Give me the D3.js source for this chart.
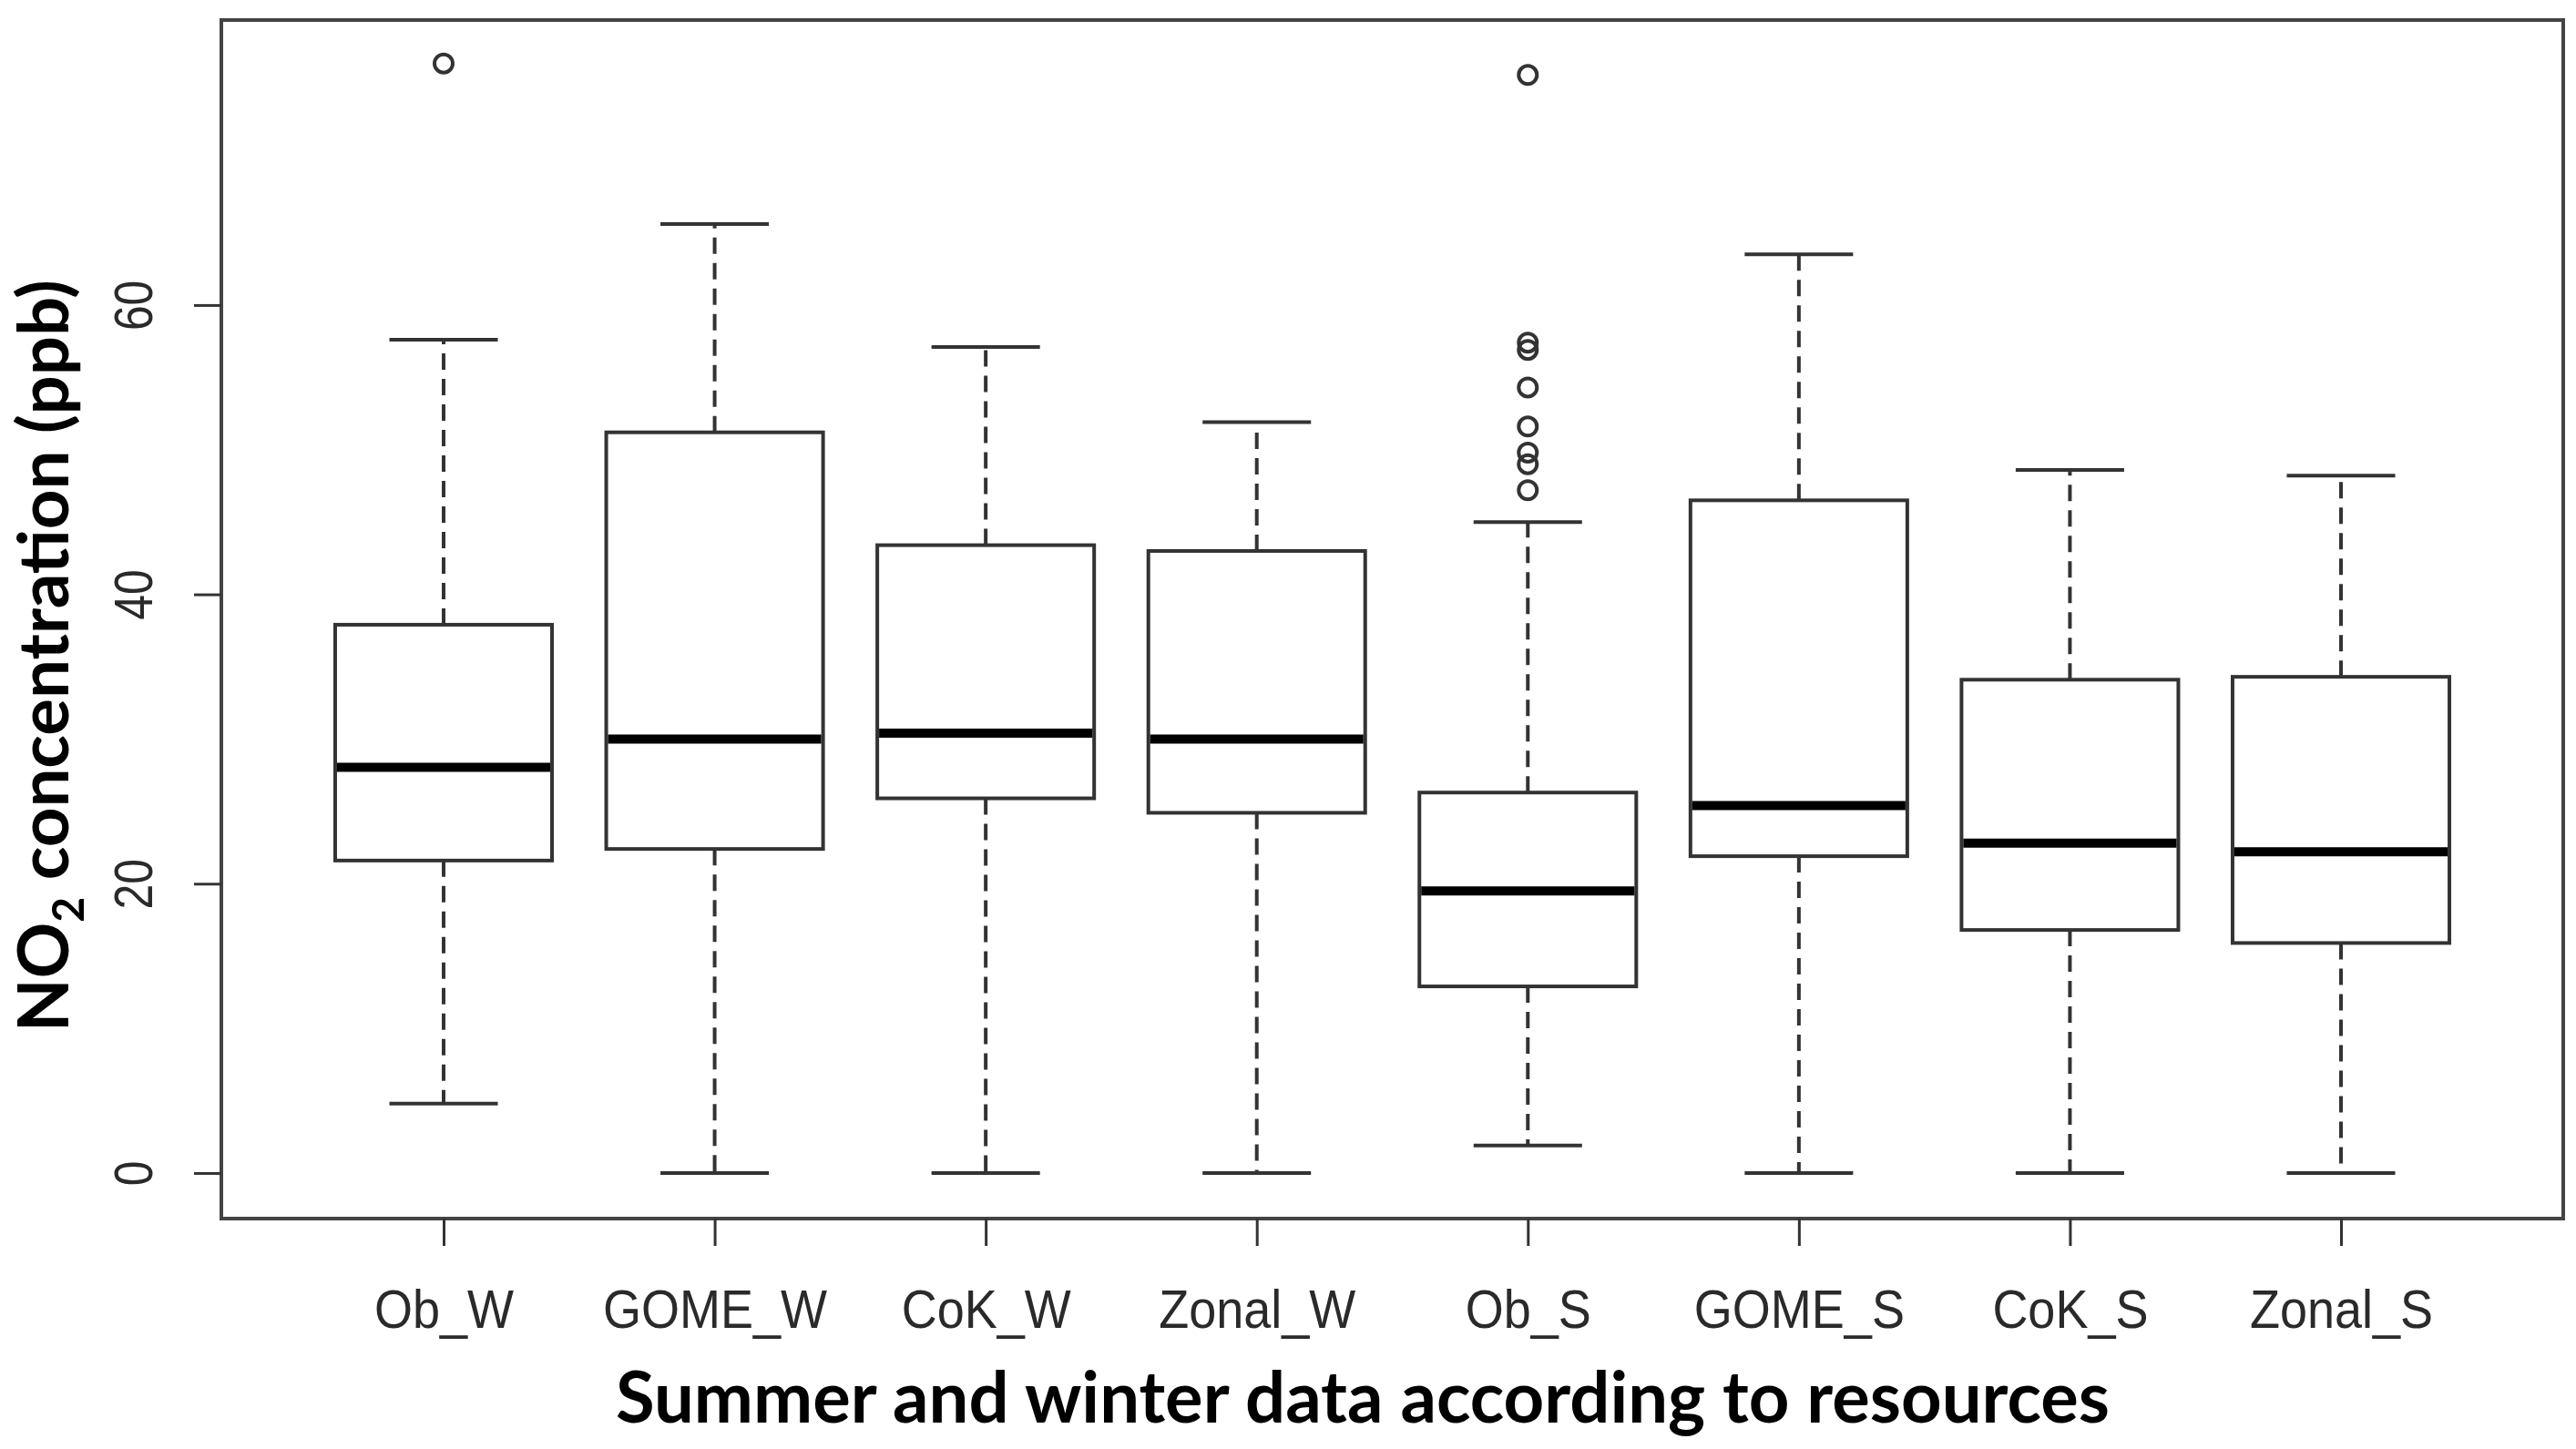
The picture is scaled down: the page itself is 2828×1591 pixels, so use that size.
<!DOCTYPE html>
<html>
<head>
<meta charset="utf-8">
<script src="https://cdn.jsdelivr.net/npm/d3@7"></script>
<style>
  body { margin: 0; background: #fff; }
  svg { display: block; }
</style>
</head>
<body>
<svg width="2828" height="1591"></svg>
<script>
// boxplot stats (ppb)
const categories = ["Ob_W", "GOME_W", "CoK_W", "Zonal_W", "Ob_S", "GOME_S", "CoK_S", "Zonal_S"];
const lowerWhisker = [4.8, 0, 0, 0, 1.9, 0, 0, 0];
const q1 = [21.6, 22.4, 25.9, 24.9, 12.9, 21.9, 16.8, 15.9];
const median = [28.05, 30.0, 30.4, 30.0, 19.5, 25.4, 22.8, 22.2];
const q3 = [37.9, 51.2, 43.4, 43.0, 26.3, 46.5, 34.1, 34.3];
const upperWhisker = [57.6, 65.6, 57.1, 51.9, 45.0, 63.5, 48.6, 48.2];
const outliers = [
  [76.7], [], [], [],
  [75.9, 57.4, 56.9, 54.3, 51.6, 49.8, 49.0, 47.2],
  [], [], []
];
const yTicks = [0, 20, 40, 60];

const boxes = categories.map((c, i) => ({
  name: c, pos: i + 1,
  lo: lowerWhisker[i], q1: q1[i], med: median[i], q3: q3[i], hi: upperWhisker[i],
  out: outliers[i]
}));

const svg = d3.select("svg");
const plotL = 243, plotR = 2814, plotT = 22, plotB = 1338;

const x = d3.scaleLinear().domain([0.18, 8.82]).range([plotL, plotR]);
const y = d3.scaleLinear().domain([-3.15, 79.7]).range([plotB, plotT]);

const boxHalf = 0.4, capHalf = 0.2;

const g = svg.append("g");
const bx = g.selectAll("g.box").data(boxes).enter().append("g").attr("class", "box");

// whiskers (dashed)
bx.append("line")
  .attr("x1", d => x(d.pos)).attr("x2", d => x(d.pos))
  .attr("y1", d => y(d.q3)).attr("y2", d => y(d.hi))
  .attr("stroke", "#333").attr("stroke-width", 4).attr("stroke-dasharray", "18,10");
bx.append("line")
  .attr("x1", d => x(d.pos)).attr("x2", d => x(d.pos))
  .attr("y1", d => y(d.q1)).attr("y2", d => y(d.lo))
  .attr("stroke", "#333").attr("stroke-width", 4).attr("stroke-dasharray", "18,10");

// staples
["hi", "lo"].forEach(k => {
  bx.append("line")
    .attr("x1", d => x(d.pos - capHalf)).attr("x2", d => x(d.pos + capHalf))
    .attr("y1", d => y(d[k])).attr("y2", d => y(d[k]))
    .attr("stroke", "#333").attr("stroke-width", 4);
});

// boxes
bx.append("rect")
  .attr("x", d => x(d.pos - boxHalf))
  .attr("width", d => x(d.pos + boxHalf) - x(d.pos - boxHalf))
  .attr("y", d => y(d.q3))
  .attr("height", d => y(d.q1) - y(d.q3))
  .attr("fill", "#fff").attr("stroke", "#333").attr("stroke-width", 4);

// medians
bx.append("line")
  .attr("x1", d => x(d.pos - boxHalf) + 2).attr("x2", d => x(d.pos + boxHalf) - 2)
  .attr("y1", d => y(d.med)).attr("y2", d => y(d.med))
  .attr("stroke", "#000").attr("stroke-width", 10);

// outliers
bx.selectAll("circle").data(d => d.out.map(v => ({ pos: d.pos, v: v }))).enter()
  .append("circle")
  .attr("cx", d => x(d.pos)).attr("cy", d => y(d.v)).attr("r", 10)
  .attr("fill", "none").attr("stroke", "#333").attr("stroke-width", 4);

// frame
svg.append("rect")
  .attr("x", plotL).attr("y", plotT)
  .attr("width", plotR - plotL).attr("height", plotB - plotT)
  .attr("fill", "none").attr("stroke", "#444").attr("stroke-width", 4);

// y axis
const yAxis = svg.append("g")
  .attr("transform", `translate(${plotL},0)`)
  .call(d3.axisLeft(y).tickValues(yTicks).tickSize(30).tickFormat(d3.format("d")));
yAxis.select(".domain").remove();
yAxis.selectAll(".tick line").attr("stroke", "#333").attr("stroke-width", 3);
yAxis.selectAll(".tick text")
  .attr("x", 0).attr("y", -76).attr("dy", 0)
  .attr("transform", "rotate(-90)")
  .attr("text-anchor", "middle")
  .attr("font-family", "'Liberation Sans', Arial, sans-serif")
  .attr("font-size", 60).attr("fill", "#2a2a2a");

// x axis
const xAxis = svg.append("g")
  .attr("transform", `translate(0,${plotB})`)
  .call(d3.axisBottom(x).tickValues(d3.range(1, categories.length + 1))
    .tickSize(30).tickFormat(i => categories[i - 1]));
xAxis.select(".domain").remove();
xAxis.selectAll(".tick line").attr("stroke", "#333").attr("stroke-width", 3);
xAxis.selectAll(".tick text")
  .attr("y", 120).attr("dy", 0)
  .attr("font-family", "'Liberation Sans', Arial, sans-serif")
  .attr("font-size", 60).attr("fill", "#2a2a2a");

// narrow the tick labels a bit, like the original
function squeeze(sel, ratio) {
  sel.each(function () {
    const len = this.getComputedTextLength();
    d3.select(this).attr("textLength", len * ratio).attr("lengthAdjust", "spacingAndGlyphs");
  });
}
squeeze(xAxis.selectAll(".tick text"), 0.9);
squeeze(yAxis.selectAll(".tick text"), 0.83);

// x title
const xt = svg.append("text")
  .attr("x", 1496).attr("y", 1562)
  .attr("text-anchor", "middle")
  .attr("font-family", "Lato, 'Open Sans', sans-serif")
  .attr("font-weight", "bold").attr("font-size", 78).attr("fill", "#000")
  .text("Summer and winter data according to resources");
xt.attr("textLength", 1640).attr("lengthAdjust", "spacingAndGlyphs");

// y title with subscript
const ytG = svg.append("g").attr("transform", "translate(75,720) rotate(-90)");
const yt = ytG.append("text")
  .attr("text-anchor", "middle")
  .attr("font-family", "Lato, 'Open Sans', sans-serif")
  .attr("font-weight", "bold").attr("font-size", 76).attr("fill", "#000");
yt.append("tspan").text("NO");
yt.append("tspan").attr("font-size", 48).attr("dy", 17).text("2");
yt.append("tspan").attr("dy", -17).text(" concentration (ppb)");
const w = yt.node().getBBox().width;
yt.attr("transform", `scale(${826 / w},1)`);
</script>
</body>
</html>
